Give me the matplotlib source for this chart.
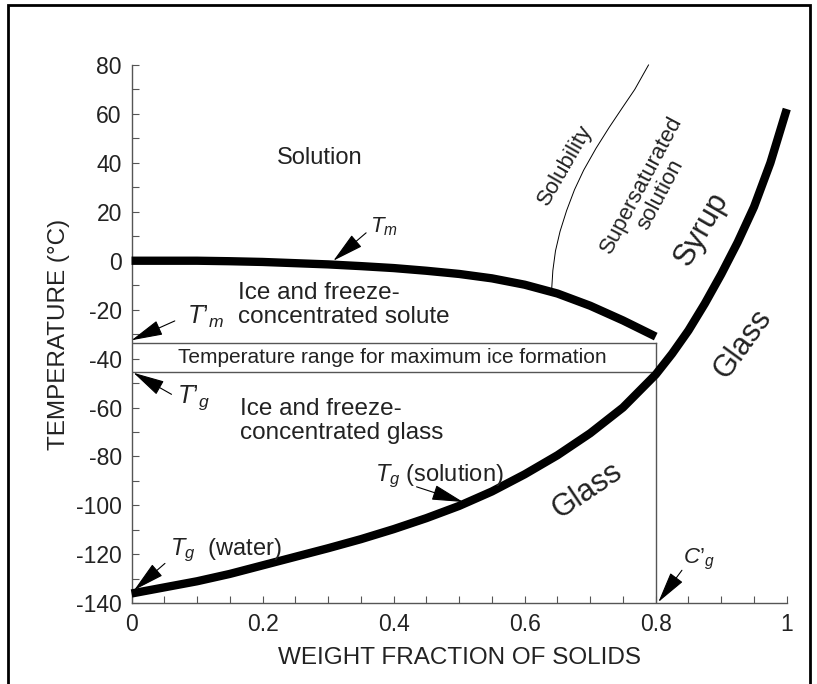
import matplotlib
matplotlib.use("Agg")
import matplotlib.pyplot as plt
from matplotlib.patches import Rectangle
from matplotlib.ticker import MultipleLocator

plt.rcParams['font.family'] = ['Liberation Sans', 'DejaVu Sans']
plt.rcParams['mathtext.fontset'] = 'custom'
plt.rcParams['mathtext.rm'] = 'Liberation Sans'
plt.rcParams['mathtext.it'] = 'Liberation Sans:italic'
plt.rcParams['axes.unicode_minus'] = False

# melting curve Tm (weight fraction, degC)
tm_x = [0.0, 0.05, 0.1, 0.15, 0.2, 0.25, 0.3, 0.35, 0.4, 0.45, 0.5, 0.55, 0.6,
        0.65, 0.7, 0.75, 0.8]
tm_y = [0.0, 0.0, 0.0, -0.2, -0.5, -1.0, -1.5, -2.2, -3.0, -4.1, -5.4, -7.2, -9.8,
        -13.4, -18.4, -24.4, -31.0]

# glass transition curve Tg
tg_x = [0.0, 0.05, 0.1, 0.15, 0.2, 0.25, 0.3, 0.35, 0.4, 0.45, 0.5, 0.55, 0.6,
        0.65, 0.7, 0.75, 0.8, 0.825, 0.85, 0.875, 0.9, 0.925, 0.95, 0.975, 1.0]
tg_y = [-136, -133.5, -131, -128, -124.5, -121, -117.5, -113.8, -109.7, -105.2, -100.2,
        -94.3, -87.3, -79.5, -70.5, -60, -46.5, -38, -28.5, -17.5, -5.5, 7.5, 22, 40, 62]

# solubility curve
sol_x = [0.641, 0.643, 0.647, 0.654, 0.664, 0.676, 0.69, 0.709, 0.729, 0.749, 0.768, 0.789]
sol_y = [-12.5, -4, 4, 12, 20.5, 29, 37, 46, 54.5, 62.5, 70, 80]

tm_prime = -33.5
tg_prime = -45.5
cg_prime = 0.8

fig = plt.figure(figsize=(8.17, 6.84), dpi=100)
ax = fig.add_axes([0.161, 0.118, 0.802, 0.787])

thick = dict(color='black', lw=6, solid_capstyle='butt', solid_joinstyle='round',
             clip_on=False, zorder=3)
ax.plot(tm_x, tm_y, **thick)
ax.plot(tg_x, tg_y, **thick)
ax.plot(sol_x, sol_y, color='black', lw=0.7, clip_on=False)

grey = '#555555'
ax.plot([0, cg_prime], [tm_prime, tm_prime], color=grey, lw=1)
ax.plot([0, cg_prime], [tg_prime, tg_prime], color=grey, lw=1)
ax.plot([cg_prime, cg_prime], [-140, tm_prime], color=grey, lw=1)

ax.set_xlim(0, 1)
ax.set_ylim(-140, 80)
ax.xaxis.set_minor_locator(MultipleLocator(0.05))
ax.yaxis.set_major_locator(MultipleLocator(20))
ax.yaxis.set_minor_locator(MultipleLocator(10))
ax.set_xticks([0, 0.2, 0.4, 0.6, 0.8, 1.0])
ax.set_xticklabels(['0', '0.2', '0.4', '0.6', '0.8', '1'])
ax.tick_params(which='both', direction='in', length=5, width=0.8, color=grey,
               labelsize=16.5, labelcolor='#222222', pad=7)
for s in ['top', 'right']:
    ax.spines[s].set_visible(False)
for s in ['left', 'bottom']:
    ax.spines[s].set_color(grey)
    ax.spines[s].set_linewidth(1)

ax.set_xlabel('WEIGHT FRACTION OF SOLIDS', fontsize=17.5, color='#222222', labelpad=8)
ax.set_ylabel('TEMPERATURE (°C)', fontsize=17.5, color='#222222', labelpad=4)

tc = '#222222'
ax.text(0.287, 42, 'Solution', fontsize=17, ha='center', va='center', color=tc)
ax.text(0.162, -18.2, 'Ice and freeze-\nconcentrated solute', fontsize=17.5,
        ha='left', va='center', linespacing=1.1, color=tc)
ax.text(0.398, -39.5, 'Temperature range for maximum ice formation', fontsize=15,
        ha='center', va='center', color=tc)
ax.text(0.165, -65.5, 'Ice and freeze-\nconcentrated glass', fontsize=17.5,
        ha='left', va='center', linespacing=1.1, color=tc)
ax.text(0.662, 39, 'Solubility', fontsize=16, rotation=60, ha='center', va='center', color=tc)
ax.text(0.793, 29, 'Supersaturated\nsolution', fontsize=16, rotation=62,
        ha='center', va='center', linespacing=1.0, color=tc)
ax.text(0.87, 13, 'Syrup', fontsize=22, rotation=60, ha='center', va='center', color=tc)
ax.text(0.933, -34, 'Glass', fontsize=22, rotation=54, ha='center', va='center', color=tc)
ax.text(0.695, -94, 'Glass', fontsize=22, rotation=34, ha='center', va='center', color=tc)

# labelled arrows
ax.text(0.385, 14, '$T_m$', fontsize=16, ha='center', va='center', color=tc)
ax.text(0.112, -23, '$T’_m$', fontsize=18, ha='center', va='center', color=tc)
ax.text(0.095, -56, '$T’_g$', fontsize=18, ha='center', va='center', color=tc)
ax.text(0.058, -118.5, '$T_g$  (water)', fontsize=17, ha='left', va='center', color=tc)
ax.text(0.372, -88, '$T_g$ (solution)', fontsize=17, ha='left', va='center', color=tc)
ax.text(0.866, -122, '$C’_g$', fontsize=16, ha='center', va='center', color=tc)

arrows = [((0.358, 11.4), (0.308, 0.0)),
          ((0.066, -24.6), (0.0, -32.5)),
          ((0.061, -54.6), (0.003, -45.8)),
          ((0.051, -123.7), (0.004, -134.6)),
          ((0.435, -92.4), (0.506, -98.6)),
          ((0.84, -126.5), (0.804, -139.5))]
for tail, head in arrows:
    ax.annotate('', xy=head, xytext=tail, annotation_clip=False,
                arrowprops=dict(arrowstyle='-|>,head_length=0.9,head_width=0.22',
                                color='black', lw=0.8, mutation_scale=22,
                                shrinkA=0, shrinkB=0))

fig.add_artist(Rectangle((0.0098, -0.02), 0.982, 1.0127, transform=fig.transFigure,
                         fill=False, edgecolor='black', lw=2))

fig.savefig('out.png', dpi=100)
